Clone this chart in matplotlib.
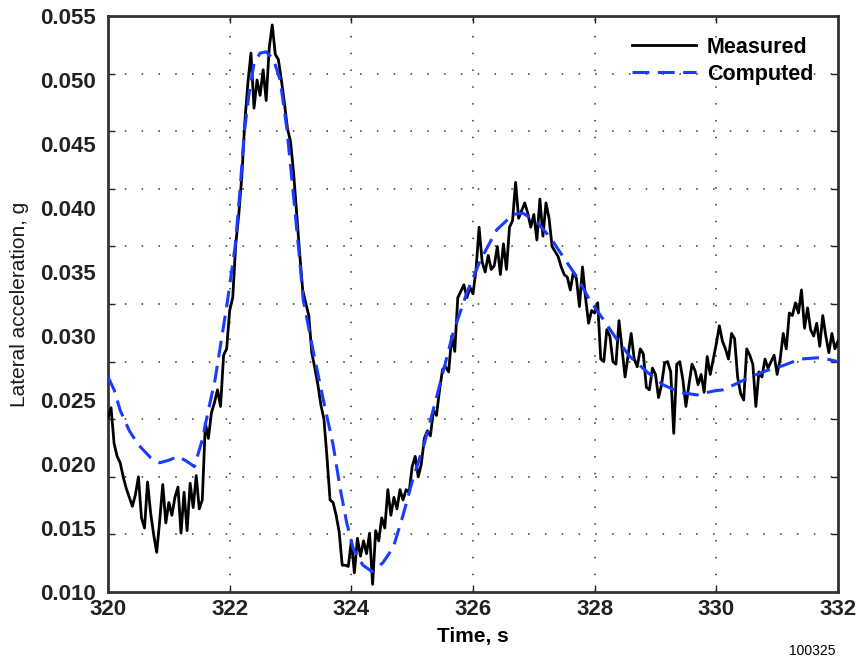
# -*- coding: utf-8 -*-
# Lateral acceleration: measured vs computed
import numpy as np
import matplotlib
matplotlib.use('Agg')
import matplotlib.pyplot as plt
from matplotlib.ticker import FixedLocator

plt.rcParams['font.family'] = ['Liberation Sans', 'DejaVu Sans']

#%% measured signal, sampled every 0.05 s from 320 s to 332 s
t_meas = np.linspace(320.0, 332.0, 241)
a_meas = [
    0.0236, 0.0244, 0.0216, 0.0206, 0.0201, 0.0190, 0.0181, 0.0174, 0.0167, 0.0176,
    0.0190, 0.0158, 0.0150, 0.0186, 0.0162, 0.0145, 0.0131, 0.0156, 0.0184, 0.0154,
    0.0170, 0.0160, 0.0174, 0.0182, 0.0146, 0.0178, 0.0148, 0.0185, 0.0166, 0.0191,
    0.0165, 0.0172, 0.0232, 0.0220, 0.0240, 0.0248, 0.0258, 0.0245, 0.0285, 0.0290,
    0.0320, 0.0330, 0.0372, 0.0395, 0.0425, 0.0468, 0.0498, 0.0521, 0.0478, 0.0500,
    0.0488, 0.0508, 0.0484, 0.0525, 0.0543, 0.0520, 0.0516, 0.0500, 0.0482, 0.0462,
    0.0452, 0.0428, 0.0396, 0.0365, 0.0336, 0.0326, 0.0316, 0.0287, 0.0275, 0.0262,
    0.0246, 0.0235, 0.0205, 0.0172, 0.0170, 0.0160, 0.0147, 0.0121, 0.0121, 0.0120,
    0.0140, 0.0115, 0.0142, 0.0128, 0.0140, 0.0130, 0.0146, 0.0106, 0.0148, 0.0140,
    0.0158, 0.0150, 0.0180, 0.0160, 0.0174, 0.0165, 0.0180, 0.0172, 0.0180, 0.0178,
    0.0198, 0.0206, 0.0190, 0.0200, 0.0220, 0.0226, 0.0222, 0.0242, 0.0238, 0.0258,
    0.0274, 0.0276, 0.0272, 0.0300, 0.0288, 0.0330, 0.0335, 0.0340, 0.0330, 0.0338,
    0.0333, 0.0352, 0.0385, 0.0358, 0.0350, 0.0363, 0.0352, 0.0355, 0.0370, 0.0348,
    0.0372, 0.0352, 0.0385, 0.0390, 0.0420, 0.0392, 0.0398, 0.0404, 0.0396, 0.0385,
    0.0395, 0.0375, 0.0407, 0.0378, 0.0404, 0.0392, 0.0370, 0.0366, 0.0362, 0.0354,
    0.0348, 0.0346, 0.0336, 0.0350, 0.0345, 0.0323, 0.0354, 0.0330, 0.0310, 0.0320,
    0.0318, 0.0326, 0.0282, 0.0280, 0.0305, 0.0300, 0.0280, 0.0278, 0.0312, 0.0290,
    0.0268, 0.0285, 0.0302, 0.0282, 0.0276, 0.0290, 0.0286, 0.0260, 0.0258, 0.0275,
    0.0270, 0.0252, 0.0262, 0.0279, 0.0280, 0.0272, 0.0224, 0.0278, 0.0280, 0.0266,
    0.0245, 0.0262, 0.0278, 0.0273, 0.0262, 0.0270, 0.0256, 0.0284, 0.0270, 0.0282,
    0.0294, 0.0308, 0.0296, 0.0290, 0.0282, 0.0302, 0.0298, 0.0268, 0.0255, 0.0250,
    0.0290, 0.0285, 0.0278, 0.0245, 0.0272, 0.0268, 0.0282, 0.0275, 0.0280, 0.0285,
    0.0270, 0.0282, 0.0302, 0.0290, 0.0318, 0.0316, 0.0326, 0.0318, 0.0336, 0.0306,
    0.0322, 0.0305, 0.0300, 0.0310, 0.0292, 0.0316, 0.0300, 0.0287, 0.0302, 0.0290,
    0.0296,
]

#%% computed response
t_comp = [320.0, 320.1, 320.2, 320.35, 320.5, 320.7, 320.85, 321.0, 321.15, 321.3,
          321.42, 321.55, 321.64, 321.76, 321.96, 322.09, 322.17, 322.24, 322.32, 322.4,
          322.5, 322.6, 322.72, 322.83, 322.94, 323.04, 323.13, 323.21, 323.37, 323.54,
          323.7, 323.82, 323.92, 324.03, 324.19, 324.34, 324.52, 324.69, 324.85, 325.01,
          325.2, 325.46, 325.67, 325.9, 326.12, 326.39, 326.66, 326.82, 327.05, 327.27,
          327.48, 327.71, 327.92, 328.14, 328.37, 328.58, 328.86, 329.12, 329.4, 329.68,
          329.95, 330.11, 330.34, 330.55, 330.83, 331.1, 331.38, 331.66, 331.82, 332.0]
a_comp = [0.0268, 0.0258, 0.0242, 0.0226, 0.0215, 0.0205, 0.0201, 0.0203, 0.0206, 0.0202,
          0.0198, 0.0219, 0.0240, 0.0266, 0.0326, 0.0370, 0.0414, 0.0459, 0.0490, 0.0513,
          0.0521, 0.0522, 0.0516, 0.0500, 0.0462, 0.0414, 0.0370, 0.0328, 0.0289, 0.0250,
          0.0215, 0.0180, 0.0155, 0.0134, 0.0121, 0.0116, 0.0123, 0.0135, 0.0160, 0.0188,
          0.0216, 0.0263, 0.0302, 0.0334, 0.0359, 0.0383, 0.0395, 0.0396, 0.0389, 0.0377,
          0.0362, 0.0346, 0.0328, 0.0313, 0.0297, 0.0284, 0.0272, 0.0262, 0.0256, 0.0254,
          0.0257, 0.0258, 0.0263, 0.0268, 0.0273, 0.0277, 0.0282, 0.0283, 0.0282, 0.0280]

x_ticks = [320, 322, 324, 326, 328, 330, 332]
y_labels = ['0.010', '0.015', '0.020', '0.025', '0.030', '0.035',
            '0.040', '0.045', '0.050', '0.055']

NARROW = ['Liberation Sans Narrow', 'Liberation Sans', 'DejaVu Sans']

#%% figure
fig = plt.figure(figsize=(8.6, 6.66), dpi=100, facecolor='w')
ax = fig.add_axes([0.1256, 0.111, 0.8488, 0.865])

ax.plot(t_meas, a_meas, color='k', linewidth=2.0, label='Measured', zorder=3)
ax.plot(t_comp, a_comp, color='#1a3cff', linewidth=2.2, dashes=(5.5, 2.8),
        label='Computed', zorder=4)

ax.set_xlim(320, 332)
ax.set_ylim(0.010, 0.055)

# x: ticks and grid on each label
ax.set_xticks(x_ticks)
ax.set_xticklabels([str(v) for v in x_ticks], fontsize=16, fontweight='bold',
                   family=NARROW)
# y: labels every 0.005, grid on ten equal divisions
ax.yaxis.set_major_locator(FixedLocator(np.linspace(0.010, 0.055, 10)))
ax.set_yticklabels(y_labels, fontsize=16, fontweight='bold')
ax.yaxis.set_minor_locator(FixedLocator(np.linspace(0.010, 0.055, 11)[1:-1]))

ax.tick_params(axis='x', which='major', direction='in', length=5, width=1,
               top=True, pad=5, colors='#222222')
ax.tick_params(axis='y', which='major', length=0, pad=9, colors='#222222')
ax.tick_params(axis='y', which='minor', direction='in', length=5, width=1,
               right=True, color='#222222')

grid_style = dict(color='#333333', linestyle=(0, (1, 10)), linewidth=1.1)
ax.xaxis.grid(True, which='major', **grid_style)
ax.yaxis.grid(True, which='minor', **grid_style)
ax.set_axisbelow(True)

for sp in ax.spines.values():
    sp.set_linewidth(2.0)
    sp.set_color('#333333')

ax.set_xlabel('Time, s', fontsize=15, fontweight='bold', labelpad=5,
              family=NARROW)
ax.set_ylabel('Lateral acceleration, g', fontsize=15, labelpad=8,
              color='#1a1a1a')

leg = ax.legend(loc='upper right', bbox_to_anchor=(0.993, 0.998), frameon=False,
                handlelength=3.0, handletextpad=0.5, labelspacing=0.3,
                prop={'size': 15.5, 'weight': 'bold'})

fig.text(0.944, 0.022, '100325', fontsize=10, ha='center', va='center',
         family=NARROW)

fig.savefig('out.png', dpi=100, facecolor='w')
